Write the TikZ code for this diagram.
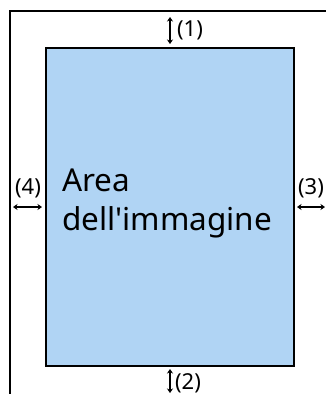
\documentclass[tikz,border=0pt]{standalone}
\usepackage{fontspec}
\setmainfont{Noto Sans}
\usetikzlibrary{arrows.meta}
\definecolor{areablue}{HTML}{B0D4F4}
\begin{document}
\begin{tikzpicture}[x=1pt,y=-1pt,
  frameline/.style={line width=1.8pt},
  gap/.style={line width=1.3pt,{Stealth[length=4.5pt,width=6pt]}-{Stealth[length=4.5pt,width=6pt]}},
  lbl/.style={font=\fontsize{22}{24}\selectfont,inner sep=0pt},
  big/.style={font=\fontsize{31.5}{39}\selectfont,align=left,inner sep=0pt,anchor=base west}]
\useasboundingbox (0,0) rectangle (326,394);
\fill[white] (0,0) rectangle (326,394);
\draw[frameline] (10,394) -- (10,11) -- (326,11);
\node[draw,frameline,fill=areablue,minimum width=248pt,minimum height=318pt,anchor=north west,inner sep=0pt] (area) at (45,47) {};
\node[big] (txt) at (62,230) {Area\\dell\textquotesingle immagine};
\coordinate (t1) at (170,17);
\coordinate (t2) at (170,44);
\draw[gap] (t1) -- (t2);
\node[lbl] (l1) at (190,30) {(1)};
\coordinate (b1) at (170,369);
\coordinate (b2) at (170,393);
\draw[gap] (b1) -- (b2);
\node[lbl] (l2) at (188,383) {(2)};
\coordinate (w1) at (13,207);
\coordinate (w2) at (42,207);
\draw[gap] (w1) -- (w2);
\node[lbl] (l4) at (28,188) {(4)};
\coordinate (e1) at (297,207);
\coordinate (e2) at (325,207);
\draw[gap] (e1) -- (e2);
\node[lbl] (l3) at (311,188) {(3)};
\end{tikzpicture}
\end{document}
